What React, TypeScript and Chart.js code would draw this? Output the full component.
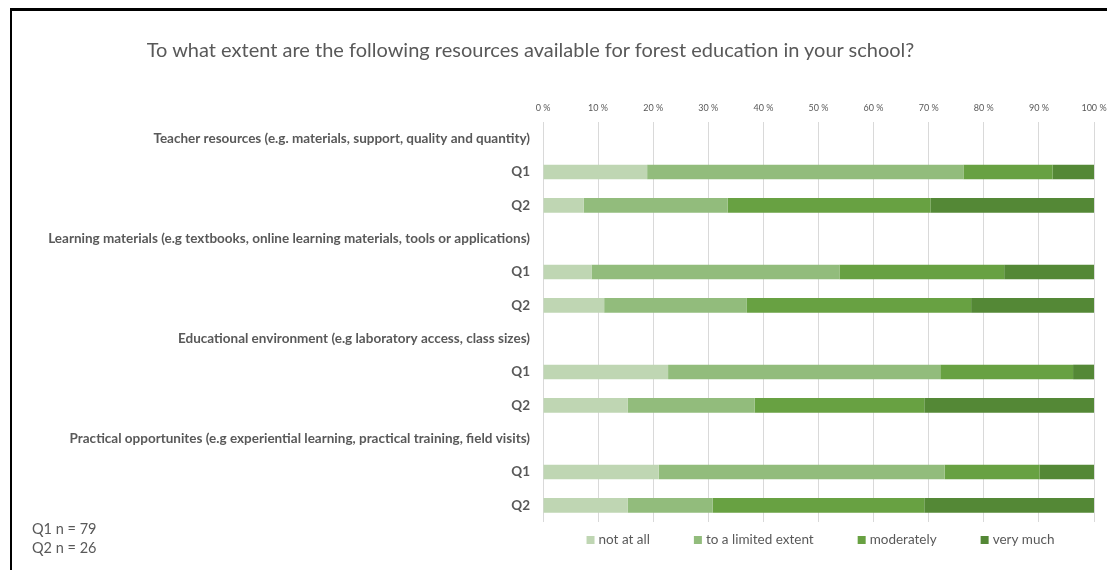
import React, { useEffect, useRef } from "react";
import { Chart, registerables } from "chart.js";

Chart.register(...registerables);

const FONT = "Lato, 'Open Sans', sans-serif";
const TEXT_COLOR = "#595959";

const titleText =
  "To what extent are the following resources available for forest education in your school?";

const categories = [
  "Teacher resources (e.g. materials, support, quality and quantity)",
  "Q1",
  "Q2",
  "Learning materials (e.g textbooks, online learning materials, tools or applications)",
  "Q1",
  "Q2",
  "Educational environment (e.g laboratory access, class sizes)",
  "Q1",
  "Q2",
  "Practical opportunites (e.g experiential learning, practical training, field visits)",
  "Q1",
  "Q2",
];

const seriesNames = ["not at all", "to a limited extent", "moderately", "very much"];
const seriesColors = ["#bfd6b3", "#92bc7c", "#68a142", "#548836"];

const notAtAll = [null, 18.9, 7.4, null, 8.8, 11.1, null, 22.7, 15.4, null, 21.0, 15.4];
const limitedExtent = [null, 57.4, 26.1, null, 45.0, 25.9, null, 49.4, 23.0, null, 51.9, 15.4];
const moderately = [null, 16.2, 36.8, null, 29.9, 40.7, null, 24.1, 30.8, null, 17.2, 38.4];
const veryMuch = [null, 7.5, 29.7, null, 16.3, 22.3, null, 3.8, 30.8, null, 9.9, 30.8];

const footnotes = ["Q1 n = 79", "Q2 n = 26"];

const bottomLegend = {
  id: "bottomLegend",
  afterDraw(chart: any) {
    const { ctx, chartArea } = chart;
    ctx.save();
    ctx.font = `13.5px ${FONT}`;
    ctx.textBaseline = "middle";
    const box = 8;
    const textGap = 4;
    const itemGap = 44;
    const items = chart.data.datasets.map((ds: any) => ({
      label: ds.label,
      color: ds.backgroundColor,
      w: box + textGap + ctx.measureText(ds.label).width,
    }));
    const total =
      items.reduce((a: number, it: any) => a + it.w, 0) + itemGap * (items.length - 1);
    let x = (chartArea.left + chartArea.right) / 2 - total / 2 + 2;
    const y = chartArea.bottom + 18;
    items.forEach((it: any) => {
      ctx.fillStyle = it.color;
      ctx.fillRect(x, y - box / 2, box, box);
      ctx.fillStyle = TEXT_COLOR;
      ctx.fillText(it.label, x + box + textGap, y);
      x += it.w + itemGap;
    });
    ctx.restore();
  },
};

export default function App() {
  const canvasRef = useRef<HTMLCanvasElement | null>(null);

  useEffect(() => {
    if (!canvasRef.current) return;
    const data = [notAtAll, limitedExtent, moderately, veryMuch];
    const chart = new Chart(canvasRef.current, {
      type: "bar",
      data: {
        labels: categories,
        datasets: seriesNames.map((name, i) => ({
          label: name,
          data: data[i],
          backgroundColor: seriesColors[i],
          borderWidth: 0,
          barPercentage: 0.44,
          categoryPercentage: 1,
        })),
      },
      options: {
        indexAxis: "y",
        animation: false,
        responsive: false,
        devicePixelRatio: 1,
        layout: { padding: { left: 0, right: 13, top: 92, bottom: 48 } },
        plugins: {
          legend: { display: false },
          tooltip: { enabled: false },
          title: { display: false },
        },
        scales: {
          x: {
            position: "top",
            stacked: true,
            min: 0,
            max: 100,
            ticks: {
              stepSize: 10,
              callback: (v: any) => `${v} %`,
              font: { family: FONT, size: 9 },
              color: TEXT_COLOR,
              padding: 9,
              maxRotation: 0,
            },
            grid: { color: "#d9d9d9", drawTicks: false },
            border: { display: false },
            afterFit: (s: any) => {
              s.height = 30;
              s.paddingLeft = 0;
              s.paddingRight = 0;
            },
          },
          y: {
            stacked: true,
            grid: { display: false, drawTicks: false },
            border: { display: false },
            ticks: {
              autoSkip: false,
              font: { family: FONT, size: 13.5, weight: "bold" },
              color: TEXT_COLOR,
              padding: 13,
            },
            afterFit: (s: any) => {
              s.width = 543;
            },
          },
        },
      },
      plugins: [bottomLegend],
    });
    return () => chart.destroy();
  }, []);

  return (
    <div
      style={{
        position: "fixed",
        left: 0,
        top: 0,
        width: 1107,
        height: 570,
        background: "#fff",
        overflow: "hidden",
        fontFamily: FONT,
      }}
    >
      <div
        style={{
          position: "absolute",
          left: 10,
          top: 8,
          width: 1120,
          height: 600,
          borderTop: "3px solid #000",
          borderLeft: "2px solid #000",
        }}
      />
      <canvas
        ref={canvasRef}
        width={1107}
        height={570}
        style={{ position: "absolute", left: 0, top: 0 }}
      />
      <div
        style={{
          position: "absolute",
          left: 30,
          width: 1001,
          top: 37,
          lineHeight: "24px",
          fontSize: 20,
          textAlign: "center",
          color: TEXT_COLOR,
          whiteSpace: "nowrap",
        }}
      >
        {titleText}
      </div>
      <div
        style={{
          position: "absolute",
          left: 32,
          top: 519,
          fontSize: 14.5,
          lineHeight: "19px",
          color: TEXT_COLOR,
        }}
      >
        {footnotes.map((f) => (
          <div key={f}>{f}</div>
        ))}
      </div>
    </div>
  );
}
